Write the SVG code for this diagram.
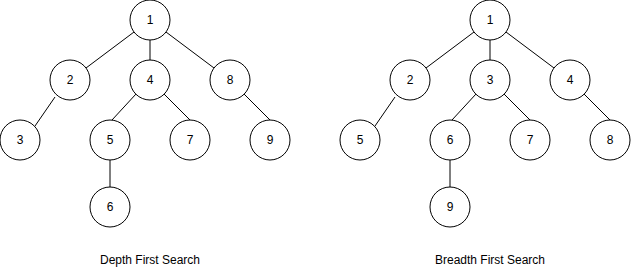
<svg xmlns="http://www.w3.org/2000/svg" width="631" height="271" viewBox="0 0 631 271">
<style>
.n circle{fill:#fff;stroke:#000;stroke-width:1}
.n text,.lbl{font-family:"Liberation Sans",Arial,sans-serif;font-size:12px;fill:#000;text-anchor:middle;dominant-baseline:central}
.e line{stroke:#000;stroke-width:1}
</style>
<rect width="631" height="271" fill="#fff"/>
<g id="connectors" class="e">
<line x1="134" y1="32" x2="86" y2="68"/>
<line x1="150" y1="40" x2="150" y2="60"/>
<line x1="166" y1="32" x2="214" y2="68"/>
<line x1="55" y1="97" x2="35" y2="126"/>
<line x1="136" y1="94" x2="112" y2="120"/>
<line x1="164" y1="94" x2="190" y2="120"/>
<line x1="244" y1="94" x2="270" y2="120"/>
<line x1="110" y1="160" x2="110" y2="187"/>
<line x1="474" y1="32" x2="426" y2="68"/>
<line x1="490" y1="40" x2="490" y2="60"/>
<line x1="506" y1="32" x2="554" y2="68"/>
<line x1="395" y1="97" x2="375" y2="126"/>
<line x1="476" y1="94" x2="452" y2="120"/>
<line x1="504" y1="94" x2="530" y2="120"/>
<line x1="584" y1="94" x2="610" y2="120"/>
<line x1="450" y1="160" x2="450" y2="187"/>
</g>
<g id="dfs1" class="n"><circle cx="150" cy="20" r="20"/><text x="150" y="20">1</text></g>
<g id="dfs2" class="n"><circle cx="70" cy="80" r="20"/><text x="70" y="80">2</text></g>
<g id="dfs4" class="n"><circle cx="150" cy="80" r="20"/><text x="150" y="80">4</text></g>
<g id="dfs8" class="n"><circle cx="230" cy="80" r="20"/><text x="230" y="80">8</text></g>
<g id="dfs3" class="n"><circle cx="20" cy="140" r="20"/><text x="20" y="140">3</text></g>
<g id="dfs5" class="n"><circle cx="110" cy="140" r="20"/><text x="110" y="140">5</text></g>
<g id="dfs7" class="n"><circle cx="190" cy="140" r="20"/><text x="190" y="140">7</text></g>
<g id="dfs9" class="n"><circle cx="270" cy="140" r="20"/><text x="270" y="140">9</text></g>
<g id="dfs6" class="n"><circle cx="110" cy="207" r="20"/><text x="110" y="207">6</text></g>
<g id="bfs1" class="n"><circle cx="490" cy="20" r="20"/><text x="490" y="20">1</text></g>
<g id="bfs2" class="n"><circle cx="410" cy="80" r="20"/><text x="410" y="80">2</text></g>
<g id="bfs3" class="n"><circle cx="490" cy="80" r="20"/><text x="490" y="80">3</text></g>
<g id="bfs4" class="n"><circle cx="570" cy="80" r="20"/><text x="570" y="80">4</text></g>
<g id="bfs5" class="n"><circle cx="360" cy="140" r="20"/><text x="360" y="140">5</text></g>
<g id="bfs6" class="n"><circle cx="450" cy="140" r="20"/><text x="450" y="140">6</text></g>
<g id="bfs7" class="n"><circle cx="530" cy="140" r="20"/><text x="530" y="140">7</text></g>
<g id="bfs8" class="n"><circle cx="610" cy="140" r="20"/><text x="610" y="140">8</text></g>
<g id="bfs9" class="n"><circle cx="450" cy="207" r="20"/><text x="450" y="207">9</text></g>
<text class="lbl" x="150" y="260">Depth First Search</text>
<text class="lbl" x="490" y="260">Breadth First Search</text>
</svg>
